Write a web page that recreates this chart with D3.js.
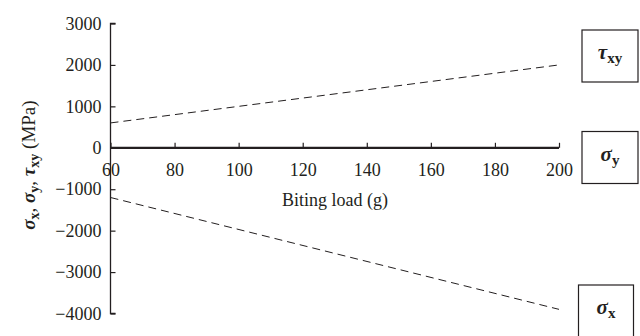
<!DOCTYPE html>
<html><head><meta charset="utf-8">
<script src="https://cdn.jsdelivr.net/npm/d3@7"></script>
<style>
body{margin:0;background:#fff;}
svg text{font-family:"Liberation Serif","DejaVu Serif",serif;fill:#231f20;}
</style></head>
<body><svg id="c" width="640" height="336"></svg>
<script>
const loads = [60, 200];
const tauXY = [600, 2000];
const sigmaY = [0, 0];
const sigmaX = [-1200, -3900];
const xTicks = [60, 80, 100, 120, 140, 160, 180, 200];
const yTicks = [3000, 2000, 1000, 0, -1000, -2000, -3000, -4000];

const svg = d3.select("#c");
const col = "#231f20";
const x = d3.scaleLinear().domain([60, 200]).range([110.5, 559]);
const y = d3.scaleLinear().domain([-4000, 3000]).range([313.5, 23.5]);

// y axis
const ya = svg.append("g").attr("transform", "translate(110.5,0)")
  .call(d3.axisRight(y).tickValues(yTicks).tickSize(5).tickFormat(d => d < 0 ? "\u2212" + Math.abs(d) : d));
ya.select(".domain").attr("stroke", col).attr("stroke-width", 1.3).attr("d", `M5,${y(3000)}H0V${y(-4000)}H5`);
ya.selectAll(".tick line").attr("stroke", col).attr("stroke-width", 1.2);
ya.selectAll(".tick text").attr("x", -9).attr("text-anchor", "end").attr("font-size", 18).attr("fill", col);

// x axis on zero line
const xa = svg.append("g").attr("transform", `translate(0,${y(0)})`)
  .call(d3.axisTop(x).tickValues(xTicks).tickSize(5).tickFormat(d => d));
xa.select(".domain").remove();
xa.selectAll(".tick line").attr("stroke", col).attr("stroke-width", 1.2);
xa.selectAll(".tick text").attr("y", 28).attr("font-size", 18).attr("fill", col).attr("dy", 0);

const line = d3.line().x((d, i) => x(loads[i])).y(d => y(d));
svg.append("path").datum(sigmaY).attr("d", line).attr("fill", "none").attr("stroke", col).attr("stroke-width", 2.2);
svg.append("path").datum(tauXY).attr("d", line).attr("fill", "none").attr("stroke", col).attr("stroke-width", 1).attr("stroke-dasharray", "8,5");
svg.append("path").datum(sigmaX).attr("d", line).attr("fill", "none").attr("stroke", col).attr("stroke-width", 1).attr("stroke-dasharray", "8,5");

svg.append("text").attr("x", 335).attr("y", 206).attr("text-anchor", "middle").attr("font-size", 18).text("Biting load (g)");

// y label
const yl = svg.append("text").attr("transform", "translate(35,165) rotate(-90)").attr("text-anchor", "middle").attr("font-size", 19);
const parts = [["\u03c3", "x", ", "], ["\u03c3", "y", ", "], ["\u03c4", "xy", " (MPa)"]];
parts.forEach(p => {
  yl.append("tspan").attr("font-weight", "bold").attr("font-style", "italic").text(p[0]);
  yl.append("tspan").attr("font-weight", "bold").attr("font-size", 14).attr("dy", 4).text(p[1]);
  yl.append("tspan").attr("dy", -4).text(p[2]);
});

// label boxes
const boxes = [
  {g: "\u03c4", s: "xy", x0: 582, y0: 30, w: 56, h: 52},
  {g: "\u03c3", s: "y", x0: 582, y0: 131.5, w: 56, h: 52},
  {g: "\u03c3", s: "x", x0: 578.5, y0: 285, w: 55, h: 60}
];
boxes.forEach(b => {
  svg.append("rect").attr("x", b.x0).attr("y", b.y0).attr("width", b.w).attr("height", b.h)
    .attr("fill", "none").attr("stroke", col).attr("stroke-width", 1.2);
  const t = svg.append("text").attr("x", b.x0 + b.w / 2).attr("y", b.y0 + 29).attr("text-anchor", "middle").attr("font-size", 21);
  t.append("tspan").attr("font-weight", "bold").attr("font-style", "italic").text(b.g);
  t.append("tspan").attr("font-weight", "bold").attr("font-size", 15).attr("dy", 4).text(b.s);
});
</script></body></html>
